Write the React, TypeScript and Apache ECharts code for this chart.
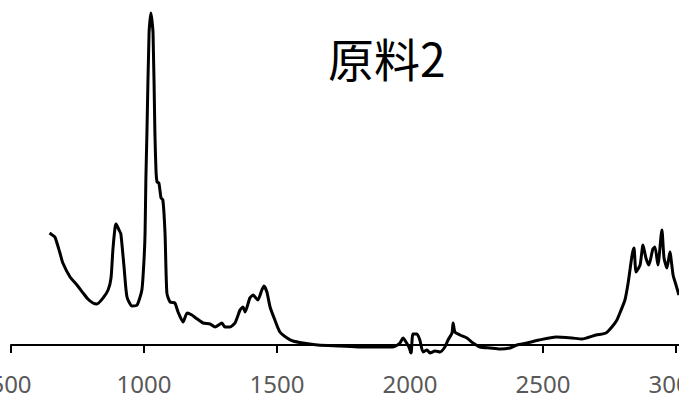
import React, { useEffect, useRef } from "react";
import * as echarts from "echarts";

const wavenumbers: number[] = [
  645, 650, 665, 684, 695, 722, 748, 771, 789, 808, 823, 846, 865, 876, 883, 891, 895, 906, 913, 925,
  936, 955, 974, 992, 1000, 1004, 1007, 1011, 1019, 1026, 1034, 1041, 1045, 1049, 1056, 1064, 1071, 1079, 1086, 1098,
  1116, 1128, 1147, 1162, 1180, 1195, 1222, 1248, 1267, 1293, 1304, 1323, 1342, 1361, 1372, 1380, 1398, 1410, 1428, 1443,
  1451, 1462, 1474, 1492, 1511, 1538, 1560, 1598, 1654, 1737, 1812, 1887, 1936, 1962, 1974, 1985, 1996, 2004, 2011, 2026,
  2037, 2049, 2064, 2075, 2094, 2113, 2131, 2143, 2158, 2162, 2169, 2188, 2214, 2237, 2263, 2301, 2338, 2376, 2402, 2440,
  2485, 2549, 2609, 2646, 2699, 2737, 2759, 2778, 2789, 2808, 2820, 2835, 2842, 2850, 2865, 2876, 2887, 2898, 2913, 2921,
  2932, 2947, 2955, 2966, 2977, 2989, 3000, 3011,
];

const intensity: number[] = [
  112, 111, 108, 92, 82, 68, 60, 52, 46, 42, 41, 47, 55, 67, 95, 117, 121, 115, 111, 78,
  48, 39, 40, 55, 85, 112, 165, 212, 312, 332, 312, 212, 175, 163, 162, 147, 145, 112, 52, 43,
  42, 33, 23, 32, 30, 27, 22, 21, 18, 22, 18, 18, 22, 35, 38, 33, 47, 50, 45, 55,
  59, 53, 38, 25, 13, 7, 4, 2, 0, -1, -2, -2, -2, 2, 7, 3, -2, -8, 11, 11,
  5, -7, -5, -8, -6, -7, -2, 5, 12, 22, 13, 10, 7, 2, -2, -3, -4, -3, 0, 2,
  5, 8, 7, 6, 10, 12, 18, 25, 32, 45, 62, 90, 97, 73, 80, 100, 87, 80, 96, 98,
  80, 115, 87, 77, 93, 70, 60, 50,
];

const chartTitle = "原料2";
const xMin = 500;
const xMax = 3500;
const xStep = 500;

export default function App() {
  const ref = useRef<HTMLDivElement>(null);

  useEffect(() => {
    document.body.style.margin = "0";
    if (!ref.current) return;
    const chart = echarts.init(ref.current, null, { renderer: "svg" });
    const data = wavenumbers.map((w, i) => [w, intensity[i]]);
    chart.setOption({
      animation: false,
      backgroundColor: "#ffffff",
      grid: {
        left: 11,
        right: -130,
        top: 5,
        bottom: 40,
        containLabel: false,
        outerBoundsMode: "none",
      },
      xAxis: {
        type: "value",
        min: xMin,
        max: xMax,
        interval: xStep,
        axisLine: { show: true, onZero: true, lineStyle: { color: "#000000", width: 2 } },
        axisTick: { show: true, inside: false, length: 8, lineStyle: { color: "#000000", width: 2 } },
        axisLabel: {
          show: true,
          color: "#595959",
          fontSize: 24,
          fontFamily: "Noto Sans",
          margin: 16,
          formatter: (v: number) => String(v),
        },
        splitLine: { show: false },
      },
      yAxis: {
        type: "value",
        min: -10,
        max: 340,
        show: false,
        splitLine: { show: false },
      },
      series: [
        {
          type: "line",
          data,
          showSymbol: false,
          symbol: "none",
          smooth: 0.2,
          clip: false,
          lineStyle: { color: "#000000", width: 3 },
          z: 3,
        },
      ],
      graphic: [
        {
          type: "text",
          left: 328,
          top: 34,
          style: {
            text: chartTitle,
            fontSize: 46,
            fontFamily: "Noto Sans CJK SC",
            fill: "#000000",
          },
        },
      ],
    });
    return () => chart.dispose();
  }, []);

  return <div ref={ref} style={{ width: 679, height: 395 }} />;
}
